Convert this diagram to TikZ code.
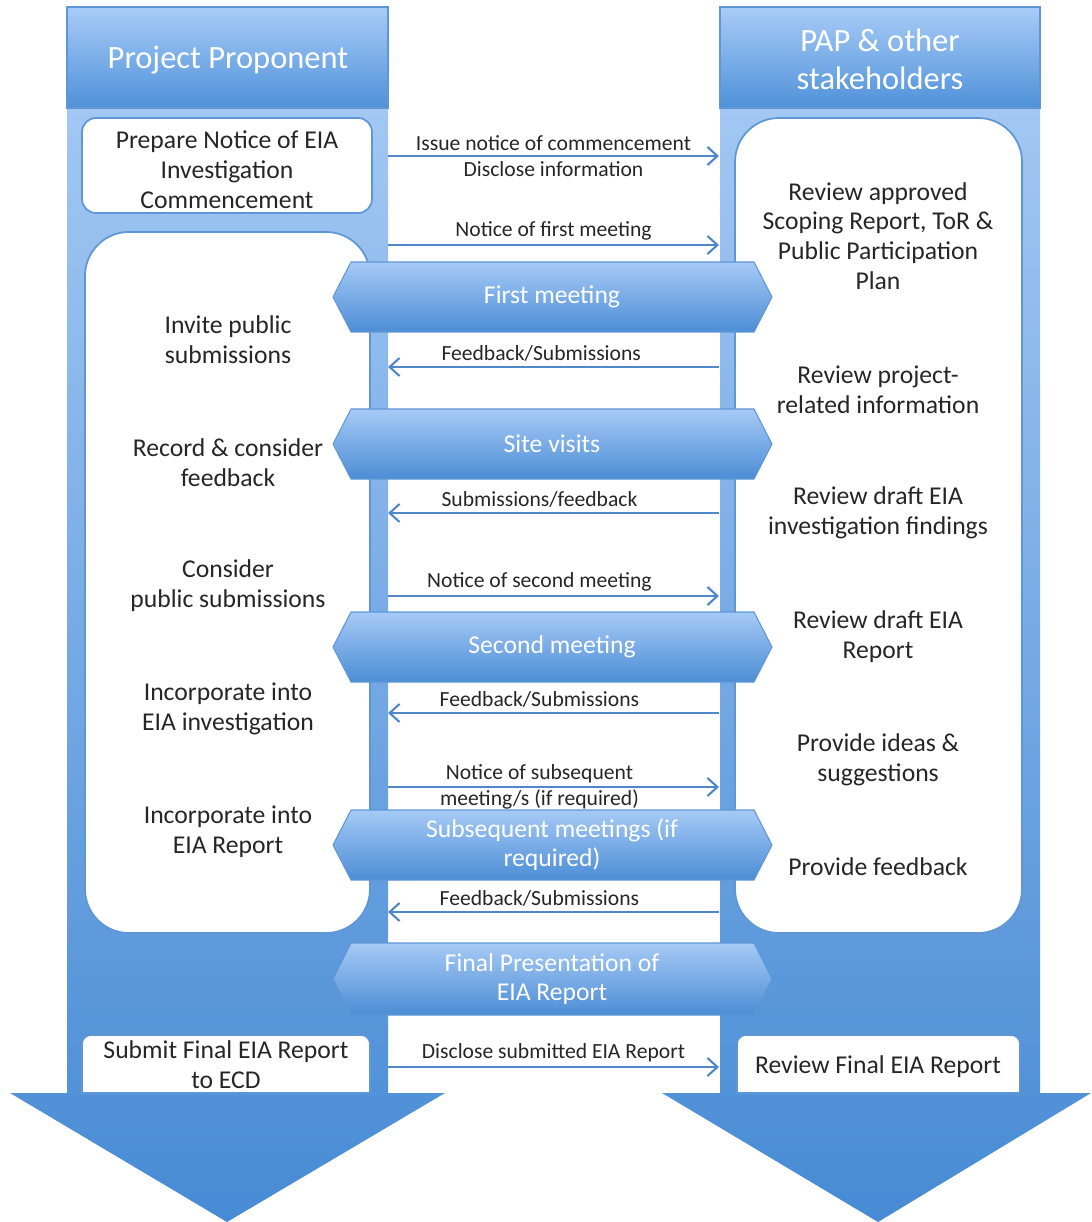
\documentclass[tikz,border=0pt]{standalone}
\usepackage{fontspec}
\setmainfont{Carlito}
\usetikzlibrary{arrows.meta}
\definecolor{headtop}{HTML}{A8CCF7}
\definecolor{headbot}{HTML}{4F91D9}
\definecolor{coltop}{HTML}{A2C7F3}
\definecolor{colbot}{HTML}{478BD4}
\definecolor{rimblue}{HTML}{5F97D6}
\definecolor{flowblue}{HTML}{4F87C8}
\definecolor{meettop}{HTML}{A6CAF6}
\definecolor{meetbot}{HTML}{4C8DD5}
\tikzset{
	column/.style={top color=coltop, bottom color=colbot, draw=none},
	header/.style={top color=headtop, bottom color=headbot, draw=rimblue, line width=0.6pt},
	panel/.style={fill=white, draw=rimblue, line width=1pt},
	boxtext/.style={font=\fontsize{14.6}{17}\selectfont, align=center, text=black!85},
	headtext/.style={font=\fontsize{18.5}{21.5}\selectfont, align=center, text=white},
	flow/.style={draw=flowblue, line width=1.2pt, -{Straight Barb[length=2mm,width=3.6mm]}},
	flowlabel/.style={font=\fontsize{12.3}{14.7}\selectfont, align=center, text=black!85},
	meetbox/.style={top color=meettop, bottom color=meetbot, draw=rimblue, line width=0.6pt},
	meettext/.style={font=\fontsize{14.6}{16.5}\selectfont, align=center, text=white}
}
\def\meeting(#1)(#2:#3)#4{
	\draw[meetbox] (333,{(#2+#3)/2}) -- (351,#2) -- (754,#2) -- (772,{(#2+#3)/2}) -- (754,#3) -- (351,#3) -- cycle;
	\node[meettext] (#1) at (552,{(#2+#3)/2}) {#4};
}

\begin{document}
\begin{tikzpicture}[x=0.02cm,y=-0.02cm]
			%%%%% START %%%%%
			\useasboundingbox (0,0) rectangle (1091,1222);
			
			% columns with arrow heads
			\path[column] (67,108) -- (388,108) -- (388,1093) -- (445,1093) -- (227,1222) -- (10,1093) -- (67,1093) -- cycle;
			\path[column] (720,108) -- (1040,108) -- (1040,1093) -- (1091,1093) -- (878,1222) -- (662,1093) -- (720,1093) -- cycle;
			
			\draw[header] (67,7) rectangle (388,108);
			\node[headtext] (pp) at (228,60) {Project Proponent};
			\draw[header] (720,7) rectangle (1040,108);
			\node[headtext] (pap) at (880,59) {PAP \& other\\stakeholders};
			
			% left side
			\draw[panel, rounded corners=8pt] (82,118) rectangle (372,213);
			\node[boxtext] (prepare) at (227,170) {Prepare Notice of EIA\\Investigation\\Commencement};
			
			\draw[panel, rounded corners=25pt] (85,232) rectangle (370,933);
			\node[boxtext] (invite) at (228,340) {Invite public\\submissions};
			\node[boxtext] (record) at (228,463) {Record \& consider\\feedback};
			\node[boxtext] (consider) at (228,586) {Consider\\public submissions};
			\node[boxtext] (incinv) at (228,709) {Incorporate into\\EIA investigation};
			\node[boxtext] (increp) at (228,832) {Incorporate into\\EIA Report};
			
			\draw[panel] (82,1093) [rounded corners=5pt] -- (82,1035) -- (370,1035) [sharp corners] -- (370,1093) -- cycle;
			\node[boxtext] (submit) at (226,1065) {Submit Final EIA Report\\to ECD};
			
			% right side
			\draw[panel, rounded corners=25pt] (735,118) rectangle (1022,933);
			\node[boxtext] (scoping) at (878,236) {Review approved\\Scoping Report, ToR \&\\Public Participation\\Plan};
			\node[boxtext] (projinfo) at (878,390) {Review project-\\related information};
			\node[boxtext] (findings) at (878,513) {Review draft EIA\\investigation findings};
			\node[boxtext] (draftrep) at (878,637) {Review draft EIA\\Report};
			\node[boxtext] (ideas) at (878,760) {Provide ideas \&\\suggestions};
			\node[boxtext] (feedback) at (878,867) {Provide feedback};
			
			\draw[panel] (737,1093) [rounded corners=5pt] -- (737,1035) -- (1020,1035) [sharp corners] -- (1020,1093) -- cycle;
			\node[boxtext] (final) at (878,1067) {Review Final EIA Report};
			
			% messages between the columns
			\coordinate (issueL) at (388,156);   \coordinate (issueR) at (719,156);
			\coordinate (firstL) at (388,245);   \coordinate (firstR) at (719,245);
			\coordinate (fb1L) at (388,367);     \coordinate (fb1R) at (719,367);
			\coordinate (fb2L) at (388,513);     \coordinate (fb2R) at (719,513);
			\coordinate (secondL) at (388,596);  \coordinate (secondR) at (719,596);
			\coordinate (fb3L) at (388,713);     \coordinate (fb3R) at (719,713);
			\coordinate (subsL) at (388,787);    \coordinate (subsR) at (719,787);
			\coordinate (fb4L) at (388,912);     \coordinate (fb4R) at (719,912);
			\coordinate (discL) at (388,1067);   \coordinate (discR) at (719,1067);
			
			\draw[flow] (issueL) -- (issueR) node[flowlabel, midway] (issue) {Issue notice of commencement\\Disclose information};
			\draw[flow] (firstL) -- (firstR) node[flowlabel, midway, above=-1pt] (noticefirst) {Notice of first meeting};
			\draw[flow] (fb1R) -- (fb1L) node[flowlabel, midway, above=-1pt, xshift=-7pt] (fbfirst) {Feedback/Submissions};
			\draw[flow] (fb2R) -- (fb2L) node[flowlabel, midway, above=-1pt, xshift=-8pt] (fbsite) {Submissions/feedback};
			\draw[flow] (secondL) -- (secondR) node[flowlabel, midway, above=-1pt, xshift=-8pt] (noticesecond) {Notice of second meeting};
			\draw[flow] (fb3R) -- (fb3L) node[flowlabel, midway, above=-1pt, xshift=-8pt] (fbsecond) {Feedback/Submissions};
			\draw[flow] (subsL) -- (subsR) node[flowlabel, midway, xshift=-8pt] (noticesubs) {Notice of subsequent\\meeting/s (if required)};
			\draw[flow] (fb4R) -- (fb4L) node[flowlabel, midway, above=-1pt, xshift=-8pt] (fbsubs) {Feedback/Submissions};
			\draw[flow] (discL) -- (discR) node[flowlabel, midway, above=-1pt] (disclose) {Disclose submitted EIA Report};
			
			% meetings
			\meeting(firstmeet)(262:332){First meeting}
			\meeting(sitevisit)(409:479){Site visits}
			\meeting(secondmeet)(612:682){Second meeting}
			\meeting(subsmeet)(810:880){Subsequent meetings (if\\required)}
			\meeting(finalpres)(943:1015){Final Presentation of\\EIA Report}
			
			%%%%% END %%%%%
\end{tikzpicture}
\end{document}
